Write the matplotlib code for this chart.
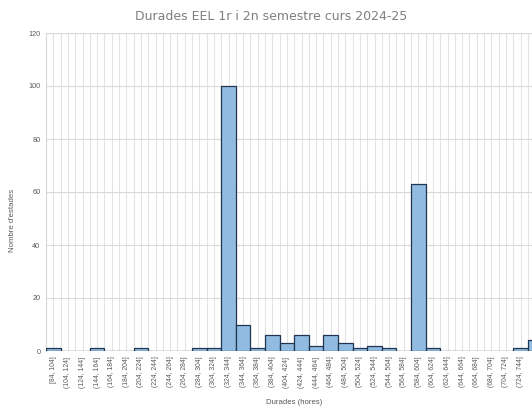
import matplotlib.pyplot as plt
import numpy as np

plt.rcParams['font.family'] = ['Liberation Sans', 'DejaVu Sans']

# dades de l'histograma (l'últim interval queda tallat a la vora dreta, sense etiqueta)
labels = ['[84, 104]', '(104, 124]', '(124, 144]', '(144, 164]', '(164, 184]',
          '(184, 204]', '(204, 224]', '(224, 244]', '(244, 264]', '(264, 284]',
          '(284, 304]', '(304, 324]', '(324, 344]', '(344, 364]', '(364, 384]',
          '(384, 404]', '(404, 424]', '(424, 444]', '(444, 464]', '(464, 484]',
          '(484, 504]', '(504, 524]', '(524, 544]', '(544, 564]', '(564, 584]',
          '(584, 604]', '(604, 624]', '(624, 644]', '(644, 664]', '(664, 684]',
          '(684, 704]', '(704, 724]', '(724, 744]']
counts = [1, 0, 0, 1, 0,
          0, 1, 0, 0, 0,
          1, 1, 100, 10, 1,
          6, 3, 6, 2, 6,
          3, 1, 2, 1, 0,
          63, 1, 0, 0, 0,
          0, 0, 1, 4]
yticks = [0, 20, 40, 60, 80, 100, 120]

W, H = 532, 408
fig = plt.figure(figsize=(W / 100, H / 100), dpi=100)
bw = 14.6  # px per interval
nb = len(counts)
ax = fig.add_axes([46 / W, (H - 351) / H, nb * bw / W, 318 / H])

x = np.arange(nb)
ax.bar(x, counts, width=1.0, color='#92bbe2', edgecolor='#1f3552', linewidth=0.9, zorder=3)

ax.set_xlim(-0.5, nb - 0.5)
ax.set_ylim(0, 120)
ax.set_yticks(yticks)
ax.set_yticklabels([str(v) for v in yticks], fontsize=5.2, color='#595959')
ax.set_xticks(x[:len(labels)])
ax.set_xticklabels(labels, rotation=90, fontsize=4.9, color='#595959')
ax.tick_params(axis='both', length=0, pad=4)

# graella: horitzontal cada 20 i vertical cada mig interval
ax.grid(axis='y', color='#d9d9d9', linewidth=0.8, zorder=0)
for gx in np.arange(-0.5, nb, 0.5):
    ax.axvline(gx, color='#e3e3e3', linewidth=0.8, zorder=0)

for s in ['top', 'right', 'bottom']:
    ax.spines[s].set_visible(False)
ax.spines['left'].set_color('#d9d9d9')
ax.axhline(0, color='#bfbfbf', linewidth=0.8, zorder=2)

fig.text(271 / W, (H - 17) / H, 'Durades EEL 1r i 2n semestre curs 2024-25',
         ha='center', va='center', fontsize=9, color='#7f7f7f', family=['DejaVu Sans'])
fig.text(294 / W, (H - 403) / H, 'Durades (hores)', ha='center', va='center',
         fontsize=5.6, color='#595959')
fig.text(13 / W, (H - 220) / H, "Nombre d'estades", ha='center', va='center',
         rotation=90, fontsize=5.6, color='#595959')

fig.savefig('out.png', dpi=100)
